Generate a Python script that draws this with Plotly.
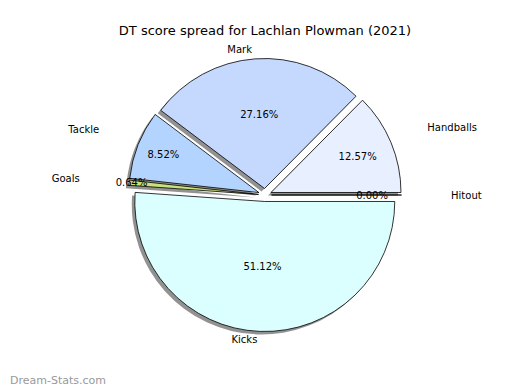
import plotly.graph_objects as go

categories = ["Hitout", "Handballs", "Mark", "Tackle", "Goals", "Kicks"]
percentages = [0.00, 12.57, 27.16, 8.52, 0.64, 51.12]
colors = ["#F0F0F0", "#E8F0FF", "#C5D9FF", "#B3D4FF", "#C8E27A", "#DBFFFF"]
explode = [0.05, 0.05, 0.05, 0.05, 0.05, 0.05]
label_offset = [0.41, 0.33, 0.08, 0.35, 0.41, 0.07]
pct_labels = [f"{p:.2f}%" for p in percentages]

# the page is drawn with an 8px body margin, so shift placements by it
OFF = 8
W, H = 520, 390
cx, cy = 265 - OFF, 195 - OFF
radius = 130


def domain(r, scale, dx=0.0, dy=0.0):
    half = r * scale
    return dict(x=[(cx + dx - half) / W, (cx + dx + half) / W],
                y=[(H - cy - dy - half) / H, (H - cy - dy + half) / H])


common = dict(labels=categories, values=percentages, sort=False,
              direction="counterclockwise", rotation=90, hoverinfo="skip",
              showlegend=False)
clear = ["rgba(0,0,0,0)"] * len(categories)
zero_slice = [p == 0 for p in percentages]

fig = go.Figure()
# shadow
fig.add_trace(go.Pie(**common, pull=explode,
                     domain=domain(radius, 1 + max(explode), dx=-3, dy=3),
                     marker=dict(colors=["rgba(110,110,110,0.75)"] * len(categories),
                                 line=dict(width=0)),
                     textinfo="none"))
# main wedges with percentages
fig.add_trace(go.Pie(**common, pull=explode,
                     domain=domain(radius, 1 + max(explode)),
                     marker=dict(colors=colors, line=dict(color="black", width=0.8)),
                     text=pct_labels, texttemplate="%{text}",
                     textposition=["none" if z else "inside" for z in zero_slice],
                     insidetextorientation="horizontal",
                     textfont=dict(size=10, color="black")))
# percentage of the empty slice, placed just off an inner ring
fig.add_trace(go.Pie(**common, domain=domain(radius * 0.68, 1.0),
                     marker=dict(colors=clear, line=dict(width=0)),
                     text=pct_labels, texttemplate="%{text}",
                     textposition=["outside" if z else "none" for z in zero_slice],
                     textfont=dict(size=10, color="black")))
# outside category labels
fig.add_trace(go.Pie(**common, pull=label_offset,
                     domain=domain(radius, 1 + max(label_offset)),
                     marker=dict(colors=clear, line=dict(width=0)),
                     texttemplate="%{label}", textposition="outside",
                     textfont=dict(size=10, color="black")))

fig.update_layout(
    width=W, height=H,
    margin=dict(l=0, r=0, t=0, b=0, autoexpand=False),
    paper_bgcolor="white", plot_bgcolor="white",
    font=dict(family="DejaVu Sans", color="black"),
    title=dict(text="DT score spread for Lachlan Plowman (2021)",
               x=(265 - OFF) / W, xanchor="center", y=1 - (30 - OFF) / H,
               yanchor="middle", font=dict(size=13, color="black")),
    uniformtext=dict(minsize=10, mode="show"),
    annotations=[dict(text="Dream-Stats.com", xref="paper", yref="paper",
                      x=0, y=(H - (380 - OFF)) / H, xanchor="left",
                      yanchor="middle", showarrow=False,
                      font=dict(size=11, color="#999999"))],
)

fig.write_html("out.html")
